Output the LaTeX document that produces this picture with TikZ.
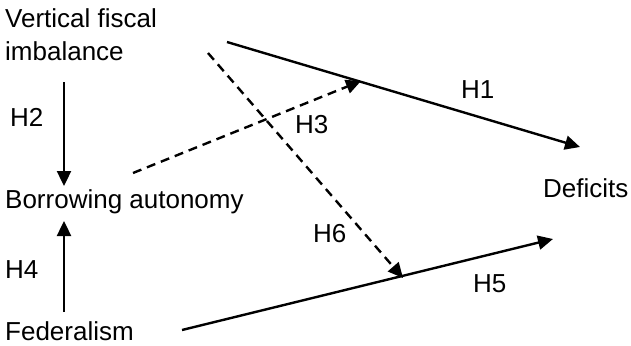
\documentclass[tikz,border=0pt]{standalone}
\usepackage{fontspec}
\setmainfont{Liberation Sans}
\usetikzlibrary{arrows.meta}
\begin{document}
\begin{tikzpicture}[x=1pt,y=-1pt,
  txt/.style={inner sep=0pt,anchor=base west,font=\fontsize{26}{33}\selectfont},
  arr/.style={line width=2.4pt,-{Triangle[length=15pt,width=14pt]}},
  darr/.style={arr,dash pattern=on 9pt off 6pt},
  plain/.style={line width=2.4pt}]
\useasboundingbox (0,0) rectangle (631,345);
% nodes
\node[txt,anchor=north west,align=left] (vfi) at (5,8.5) {Vertical fiscal\\imbalance};
\node[txt] (bor) at (5,208) {Borrowing autonomy};
\node[txt] (fed) at (5,340) {Federalism};
\node[txt] (def) at (543,197) {Deficits};
% labels
\node[txt] (h1) at (461,98) {H1};
\node[txt] (h2) at (10,126) {H2};
\node[txt] (h3) at (295,133) {H3};
\node[txt] (h4) at (5,278) {H4};
\node[txt] (h5) at (473,292) {H5};
\node[txt] (h6) at (313,242) {H6};
% connector end points
\coordinate (h1s) at (227,42);
\coordinate (h1e) at (580,147);
\coordinate (h2s) at (64,82);
\coordinate (h2e) at (64,186);
\coordinate (h4s) at (64,312);
\coordinate (h4e) at (64,221);
\coordinate (h5s) at (182,330);
\coordinate (h5e) at (553,239);
\coordinate (h3s) at (133,173);
\coordinate (h3e) at (361,81);
\coordinate (h6s) at (208,53);
\coordinate (h6e) at (403,278);
% connectors
\draw[arr] (h1s) -- (h1e);
\draw[arr] (h2s) -- (h2e);
\draw[arr] (h4s) -- (h4e);
\draw[arr] (h5s) -- (h5e);
\draw[darr] (h3s) -- (h3e);
\draw[darr] (h6s) -- (h6e);
\end{tikzpicture}
\end{document}
